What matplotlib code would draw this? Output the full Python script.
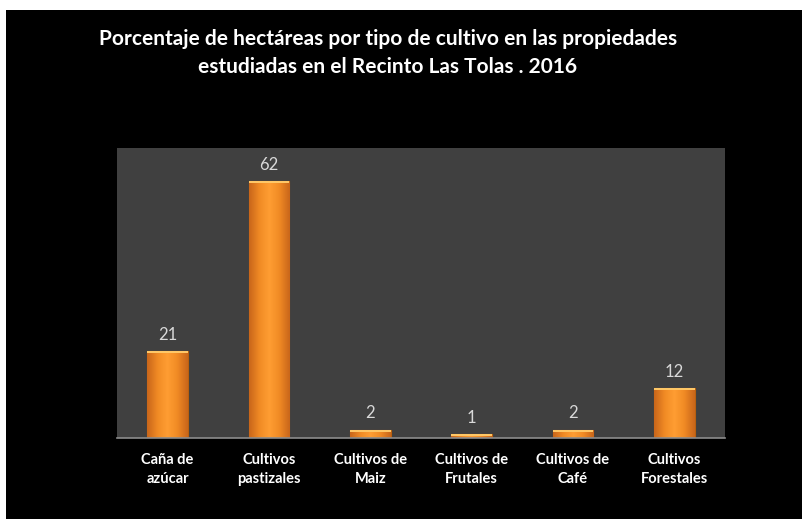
import matplotlib
matplotlib.use("Agg")
import numpy as np
import matplotlib.pyplot as plt
from matplotlib.patches import Rectangle
from matplotlib.colors import LinearSegmentedColormap

# ── Data ───────────────────────────────────────────────────────────────────
categories = ["Caña de\nazúcar", "Cultivos\npastizales", "Cultivos de\nMaiz",
              "Cultivos de\nFrutales", "Cultivos de\nCafé", "Cultivos\nForestales"]
values = [21, 62, 2, 1, 2, 12]
title = ("Porcentaje de hectáreas por tipo de cultivo en las propiedades\n"
         "estudiadas en el Recinto Las Tolas . 2016")

plt.rcParams["font.family"] = ["Lato", "DejaVu Sans"]

# ── Figure ─────────────────────────────────────────────────────────────────
fig = plt.figure(figsize=(8.03, 5.19), dpi=100, facecolor="white")
# black slide background with a thin white margin at top/left
fig.patches.append(Rectangle((6 / 803, 0), 1, 1 - 10 / 519, transform=fig.transFigure,
                             facecolor="black", edgecolor="none", zorder=-10))

ax = fig.add_axes([117 / 803, (519 - 438) / 519, 608 / 803, 290 / 519])
ax.set_zorder(1)
ax.set_facecolor("#404040")

x = np.arange(len(categories))
bars = ax.bar(x, values, width=0.4, color="#F5902A", edgecolor="#B8600F", linewidth=0.8,
              zorder=2)

# horizontal gradient inside each bar (darker edges, bright centre)
grad_cmap = LinearSegmentedColormap.from_list(
    "orange", ["#C9661A", "#F08A24", "#FF9E33", "#F08A24", "#C9661A"])
grad = np.linspace(0, 1, 64).reshape(1, -1)
for b in bars:
    bx, by, bw, bh = b.get_x(), b.get_y(), b.get_width(), b.get_height()
    im = ax.imshow(grad, cmap=grad_cmap, aspect="auto", extent=(bx, bx + bw, by, by + bh),
                   zorder=2.5, interpolation="bicubic")
    im.set_clip_path(b)

# light strip at top of each bar (bevel look)
ax.bar(x, [min(v, 0.5) for v in values], bottom=[v - min(v, 0.5) for v in values],
       width=0.4, color="#FFC766", edgecolor="none", zorder=3)

for xi, v in zip(x, values):
    ax.text(xi, v + 2.0, str(v), ha="center", va="bottom", color="#D9D9D9",
            fontsize=12)

ax.set_xlim(-0.5, len(categories) - 0.5)
ax.set_ylim(0, 70)
ax.set_yticks([])
ax.set_xticks(list(x))
ax.set_xticklabels(categories, color="white", fontsize=10.5, fontweight="bold",
                   linespacing=1.45)
ax.tick_params(axis="x", length=0, pad=11)
for side in ["top", "left", "right"]:
    ax.spines[side].set_visible(False)
ax.spines["bottom"].set_color("#8C8C8C")
ax.spines["bottom"].set_linewidth(1.2)

fig.text(388 / 803, 1 - 53 / 519, title, ha="center", va="center", color="white",
         fontsize=15, fontweight="bold", linespacing=1.55)

plt.savefig("out.png", dpi=100, facecolor=fig.get_facecolor())
